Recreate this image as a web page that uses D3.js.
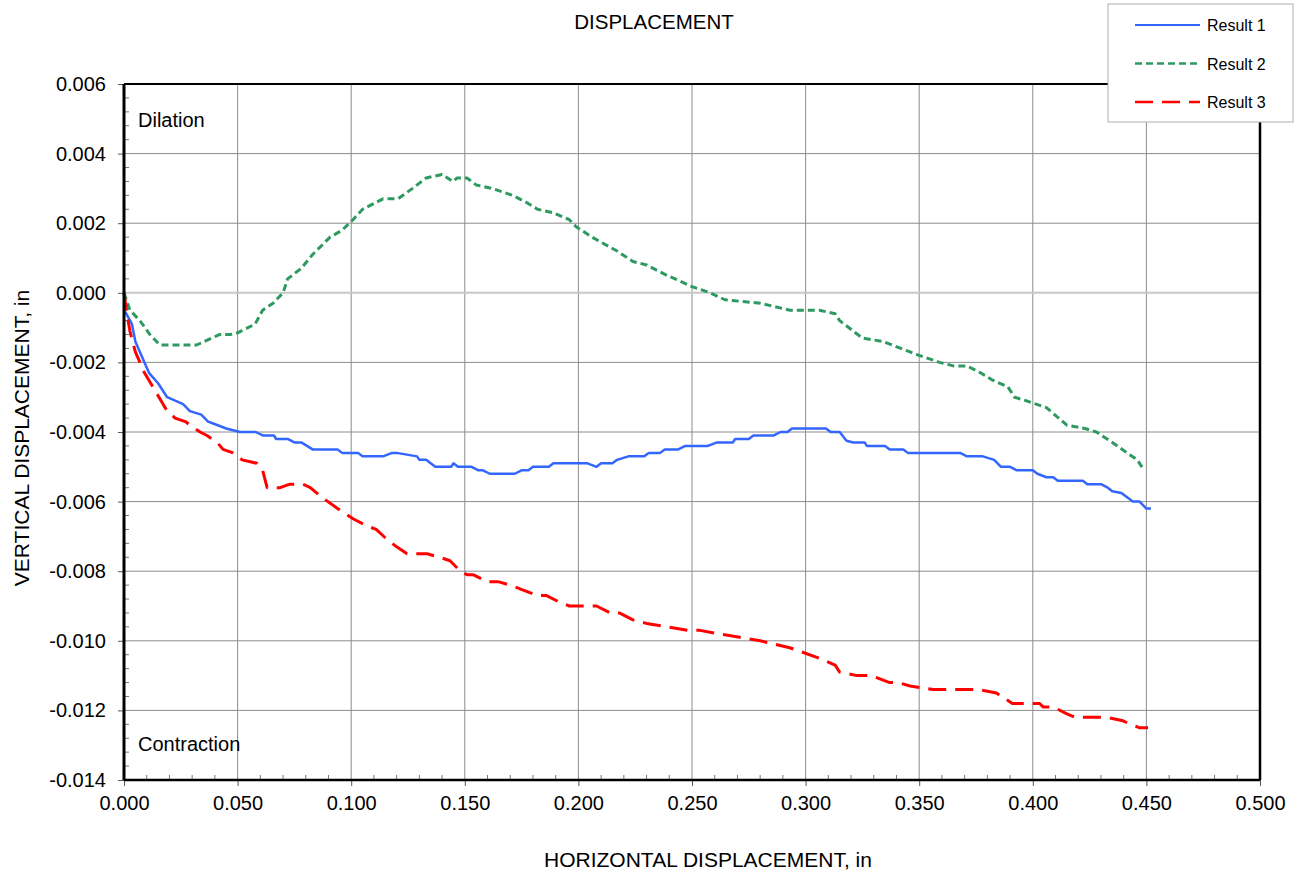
<!DOCTYPE html>
<html lang="en">
<head>
  <meta charset="UTF-8" />
  <title>Displacement</title>
  <script src="https://d3js.org/d3.v7.min.js"></script>
  <style>
    body, html {
      margin: 0;
      padding: 0;
      background: #fff;
    }
    svg {
      display: block;
      font-family: Arial, "Liberation Sans", sans-serif;
    }
  </style>
</head>
<body>
  <svg id="chart" width="1297" height="874"></svg>
  <script>
    // Series: [horizontal, vertical] in inches
    const result1 = [
      [0, -0.0005], [0.001, -0.0006], [0.0035, -0.0009], [0.005, -0.0014], [0.007, -0.0017],
      [0.011, -0.0023], [0.015, -0.0026], [0.019, -0.003], [0.026, -0.0032], [0.029, -0.0034],
      [0.034, -0.0035], [0.037, -0.0037], [0.041, -0.0038], [0.045, -0.0039], [0.051, -0.004],
      [0.058, -0.004], [0.061, -0.0041], [0.066, -0.0041], [0.067, -0.0042], [0.072, -0.0042],
      [0.075, -0.0043], [0.078, -0.0043], [0.083, -0.0045], [0.094, -0.0045], [0.096, -0.0046],
      [0.103, -0.0046], [0.105, -0.0047], [0.114, -0.0047], [0.118, -0.0046], [0.120, -0.0046],
      [0.129, -0.0047], [0.130, -0.0048], [0.133, -0.0048], [0.137, -0.005], [0.144, -0.005],
      [0.145, -0.0049], [0.147, -0.005], [0.153, -0.005], [0.156, -0.0051], [0.158, -0.0051],
      [0.161, -0.0052], [0.172, -0.0052], [0.175, -0.0051], [0.178, -0.0051], [0.180, -0.005],
      [0.187, -0.005], [0.189, -0.0049], [0.204, -0.0049], [0.208, -0.005], [0.210, -0.0049],
      [0.215, -0.0049], [0.217, -0.0048], [0.222, -0.0047], [0.229, -0.0047], [0.231, -0.0046],
      [0.236, -0.0046], [0.238, -0.0045], [0.244, -0.0045], [0.247, -0.0044], [0.257, -0.0044],
      [0.261, -0.0043], [0.268, -0.0043], [0.269, -0.0042], [0.275, -0.0042], [0.277, -0.0041],
      [0.286, -0.0041], [0.289, -0.004], [0.292, -0.004], [0.294, -0.0039], [0.309, -0.0039],
      [0.311, -0.004], [0.315, -0.004], [0.318, -0.00425], [0.321, -0.0043], [0.326, -0.0043],
      [0.327, -0.0044], [0.335, -0.0044], [0.337, -0.0045], [0.343, -0.0045], [0.345, -0.0046],
      [0.368, -0.0046], [0.371, -0.0047], [0.378, -0.0047], [0.383, -0.0048], [0.386, -0.005],
      [0.390, -0.005], [0.393, -0.0051], [0.400, -0.0051], [0.402, -0.0052], [0.406, -0.0053],
      [0.409, -0.0053], [0.411, -0.0054], [0.422, -0.0054], [0.424, -0.0055], [0.430, -0.0055],
      [0.433, -0.0056], [0.435, -0.0057], [0.439, -0.00575], [0.444, -0.006], [0.447, -0.006],
      [0.450, -0.0062], [0.452, -0.0062]
    ];

    const result2 = [
      [0, 0], [0.001, -0.0002], [0.0026, -0.0005], [0.007, -0.0008], [0.0114, -0.0012],
      [0.0158, -0.0015], [0.032, -0.0015], [0.042, -0.0012], [0.0467, -0.0012], [0.050, -0.00115],
      [0.0577, -0.0009], [0.061, -0.0005], [0.0656, -0.0003], [0.070, 0], [0.072, 0.0004],
      [0.078, 0.0007], [0.083, 0.0011], [0.0907, 0.0016], [0.096, 0.0018], [0.1008, 0.0021],
      [0.105, 0.0024], [0.114, 0.0027], [0.1206, 0.0027], [0.127, 0.003], [0.133, 0.0033],
      [0.140, 0.0034], [0.1448, 0.0032], [0.1466, 0.0033], [0.151, 0.0033], [0.155, 0.0031],
      [0.162, 0.003], [0.171, 0.0028], [0.177, 0.0026], [0.182, 0.0024], [0.189, 0.0023],
      [0.196, 0.0021], [0.199, 0.0019], [0.206, 0.0016], [0.217, 0.0012], [0.224, 0.0009],
      [0.230, 0.0008], [0.239, 0.0005], [0.246, 0.0003], [0.249, 0.0002], [0.2535, 0.0001],
      [0.258, 0], [0.2645, -0.0002], [0.280, -0.0003], [0.293, -0.0005], [0.306, -0.0005],
      [0.313, -0.0006], [0.315, -0.0008], [0.325, -0.0013], [0.334, -0.0014], [0.338, -0.0015],
      [0.346, -0.0017], [0.350, -0.0018], [0.359, -0.002], [0.365, -0.0021], [0.371, -0.0021],
      [0.377, -0.0023], [0.382, -0.0025], [0.389, -0.0027], [0.392, -0.003], [0.397, -0.0031],
      [0.406, -0.0033], [0.415, -0.0038], [0.423, -0.0039], [0.428, -0.004], [0.435, -0.0043],
      [0.4415, -0.0046], [0.446, -0.0048], [0.449, -0.0051]
    ];

    const result3 = [
      [0, 0], [0.0013, -0.0006], [0.0026, -0.0011], [0.005, -0.0017], [0.009, -0.0023],
      [0.0145, -0.0029], [0.019, -0.0034], [0.0225, -0.0036], [0.027, -0.0037], [0.029, -0.0038],
      [0.0335, -0.004], [0.0365, -0.0041], [0.041, -0.0043], [0.0436, -0.0045], [0.048, -0.0046],
      [0.052, -0.0048], [0.0585, -0.0049], [0.061, -0.0051], [0.063, -0.0056], [0.0687, -0.0056],
      [0.073, -0.0055], [0.0788, -0.0055], [0.082, -0.0056], [0.0876, -0.0059], [0.094, -0.0062],
      [0.101, -0.0065], [0.107, -0.0067], [0.111, -0.0068], [0.116, -0.0071], [0.120, -0.0073],
      [0.1246, -0.0075], [0.1334, -0.0075], [0.139, -0.0076], [0.1435, -0.0077], [0.148, -0.008],
      [0.151, -0.0081], [0.1536, -0.0081], [0.160, -0.0083], [0.1646, -0.0083], [0.170, -0.0084],
      [0.174, -0.0085], [0.182, -0.0087], [0.186, -0.0087], [0.192, -0.0089], [0.196, -0.009],
      [0.208, -0.009], [0.214, -0.0092], [0.218, -0.0092], [0.224, -0.0094], [0.230, -0.0095],
      [0.239, -0.0096], [0.248, -0.0097], [0.2535, -0.0097], [0.262, -0.0098], [0.271, -0.0099],
      [0.280, -0.01], [0.293, -0.0102], [0.2975, -0.0103], [0.306, -0.0105], [0.313, -0.0107],
      [0.315, -0.0109], [0.3226, -0.011], [0.329, -0.011], [0.337, -0.0112], [0.3407, -0.0112],
      [0.346, -0.0113], [0.356, -0.0114], [0.376, -0.0114], [0.384, -0.0115], [0.391, -0.0118],
      [0.397, -0.0118], [0.403, -0.0118], [0.4045, -0.0119], [0.409, -0.0119], [0.415, -0.0121],
      [0.4186, -0.0122], [0.4327, -0.0122], [0.4397, -0.0123], [0.443, -0.0124], [0.447, -0.0125],
      [0.4507, -0.0125]
    ];

    const seriesNames = ['Result 1', 'Result 2', 'Result 3'];
    const xTicks = [0, 0.05, 0.1, 0.15, 0.2, 0.25, 0.3, 0.35, 0.4, 0.45, 0.5];
    const yTicks = [0.006, 0.004, 0.002, 0, -0.002, -0.004, -0.006, -0.008, -0.01, -0.012, -0.014];

    // Line styles per series
    const styles = [
      { color: '#3366ff', width: 2.5, dash: null },
      { color: '#2e9960', width: 3, dash: '7,4' },
      { color: '#ff0000', width: 3, dash: '18,9' }
    ];

    const margin = { top: 84, right: 37, bottom: 94, left: 124 };
    const width = 1297 - margin.left - margin.right;   // 1136
    const height = 874 - margin.top - margin.bottom;   // 696

    const svg = d3.select('#chart');

    const x = d3.scaleLinear().domain([0, 0.5]).range([0, width]);
    const y = d3.scaleLinear().domain([-0.014, 0.006]).range([height, 0]);

    const g = svg.append('g')
      .attr('transform', `translate(${margin.left},${margin.top})`);

    // Gridlines
    g.append('g')
      .selectAll('line')
      .data(xTicks.slice(1, -1))
      .enter().append('line')
      .attr('x1', d => x(d)).attr('x2', d => x(d))
      .attr('y1', 0).attr('y2', height)
      .attr('stroke', '#8c8c8c')
      .attr('stroke-width', 1);

    g.append('g')
      .selectAll('line')
      .data(yTicks.slice(1, -1))
      .enter().append('line')
      .attr('x1', 0).attr('x2', width)
      .attr('y1', d => y(d)).attr('y2', d => y(d))
      .attr('stroke', d => d === 0 ? '#c8c8c8' : '#8c8c8c')
      .attr('stroke-width', d => d === 0 ? 2 : 1);

    // Minor ticks, pointing into the plot
    const xMinor = d3.range(1, 50).map(i => i * 0.01).filter(v => Math.round(v * 1000) % 50 !== 0);
    const yMinor = d3.range(1, 50).map(i => -0.014 + i * 0.0004).filter(v => Math.abs(Math.round(v * 10000)) % 20 !== 0);

    g.append('g')
      .selectAll('line')
      .data(xMinor)
      .enter().append('line')
      .attr('x1', d => x(d)).attr('x2', d => x(d))
      .attr('y1', height).attr('y2', height - 5)
      .attr('stroke', '#777');

    g.append('g')
      .selectAll('line')
      .data(yMinor)
      .enter().append('line')
      .attr('x1', 0).attr('x2', 5)
      .attr('y1', d => y(d)).attr('y2', d => y(d))
      .attr('stroke', '#777');

    // Axes
    const fmt = d => d.toFixed(3);

    const xAxis = g.append('g')
      .attr('transform', `translate(0,${height})`)
      .call(d3.axisBottom(x).tickValues(xTicks).tickFormat(fmt).tickSize(6).tickPadding(10));

    const yAxis = g.append('g')
      .call(d3.axisLeft(y).tickValues(yTicks).tickFormat(fmt).tickSize(6).tickPadding(12));

    [xAxis, yAxis].forEach(a => {
      a.select('.domain').remove();
      a.selectAll('.tick line').attr('stroke', '#555');
      a.selectAll('.tick text')
        .attr('fill', '#000')
        .style('font-size', '20px')
        .style('font-family', 'Arial, "Liberation Sans", sans-serif');
    });

    // Data lines
    const line = d3.line()
      .x(d => x(d[0]))
      .y(d => y(d[1]));

    [result1, result2, result3].forEach((data, i) => {
      g.append('path')
        .datum(data)
        .attr('fill', 'none')
        .attr('stroke', styles[i].color)
        .attr('stroke-width', styles[i].width)
        .attr('stroke-dasharray', styles[i].dash)
        .attr('stroke-linejoin', 'round')
        .attr('d', line);
    });

    // Plot frame
    g.append('line').attr('x1', 0).attr('x2', width).attr('y1', 0).attr('y2', 0)
      .attr('stroke', '#000').attr('stroke-width', 2);
    g.append('line').attr('x1', width).attr('x2', width).attr('y1', 0).attr('y2', height)
      .attr('stroke', '#000').attr('stroke-width', 2.5);
    g.append('line').attr('x1', 0).attr('x2', width).attr('y1', height).attr('y2', height)
      .attr('stroke', '#000').attr('stroke-width', 2.5);
    g.append('line').attr('x1', 0).attr('x2', 0).attr('y1', 0).attr('y2', height)
      .attr('stroke', '#000').attr('stroke-width', 3);

    // Annotations
    g.append('text').attr('x', 14).attr('y', 43)
      .style('font-size', '20px').text('Dilation');
    g.append('text').attr('x', 14).attr('y', 667)
      .style('font-size', '20px').text('Contraction');

    // Titles
    svg.append('text')
      .attr('x', 654).attr('y', 29)
      .attr('text-anchor', 'middle')
      .style('font-size', '20.5px')
      .text('DISPLACEMENT');

    svg.append('text')
      .attr('x', 708).attr('y', 867)
      .attr('text-anchor', 'middle')
      .style('font-size', '21px')
      .text('HORIZONTAL DISPLACEMENT, in');

    svg.append('text')
      .attr('transform', 'translate(29,438) rotate(-90)')
      .attr('text-anchor', 'middle')
      .style('font-size', '21px')
      .text('VERTICAL DISPLACEMENT, in');

    // Legend
    const legend = svg.append('g').attr('transform', 'translate(1108,4)');
    legend.append('rect')
      .attr('width', 185).attr('height', 118)
      .attr('fill', '#fff')
      .attr('stroke', '#b0b0b0');

    const rows = legend.selectAll('.row')
      .data(seriesNames)
      .enter().append('g')
      .attr('transform', (d, i) => `translate(0,${21 + i * 38.5})`);

    rows.append('line')
      .attr('x1', 27).attr('x2', 92)
      .attr('stroke', (d, i) => styles[i].color)
      .attr('stroke-width', (d, i) => i === 0 ? 2 : 2.5)
      .attr('stroke-dasharray', (d, i) => styles[i].dash);

    rows.append('text')
      .attr('x', 99).attr('y', 6)
      .style('font-size', '16px')
      .text(d => d);
  </script>
</body>
</html>
